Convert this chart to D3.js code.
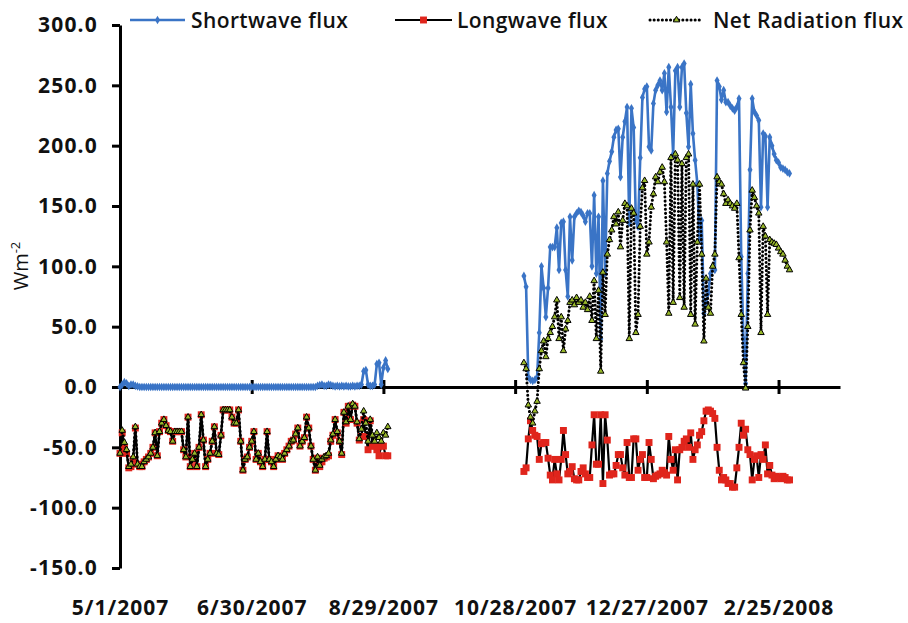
<!DOCTYPE html>
<html>
<head>
<meta charset="utf-8">
<script src="https://cdn.jsdelivr.net/npm/d3@7"></script>
<style>
  body { margin: 0; background: #ffffff; }
  svg { display: block; }
</style>
</head>
<body>
<div id="chart"></div>
<script>

// ---- data (one value per day) ----

var seriesNames = ["Shortwave flux", "Longwave flux", "Net Radiation flux"];
var yTicks = [-150, -100, -50, 0, 50, 100, 150, 200, 250, 300];
var xTickDates = ["2007-05-01", "2007-06-30", "2007-08-29", "2007-10-28", "2007-12-27", "2008-02-25"];
var xTickLabels = ["5/1/2007", "6/30/2007", "8/29/2007", "10/28/2007", "12/27/2007", "2/25/2008"];
var xDomain = ["2007-05-01", "2008-03-24"];

// first block: 5/1/2007 - 8/31/2007
var start1 = "2007-05-01";
var sw1 = [
  0, 2, 4, 3, 1, 2, 2, 1, 0.5, 0,
  0, 0, 0, 0, 0, 0, 0, 0, 0, 0,
  0, 0, 0, 0, 0, 0, 0, 0, 0, 0,
  0, 0, 0, 0, 0, 0, 0, 0, 0, 0,
  0, 0, 0, 0, 0, 0, 0, 0, 0, 0,
  0, 0, 0, 0, 0, 0, 0, 0, 0, 0,
  0, 0, 0, 0, 0, 0, 0, 0, 0, 0,
  0, 0, 0, 0, 0, 0, 0, 0, 0, 0,
  0, 0, 0, 0, 0, 0, 0, 0, 0, 0,
  1, 1.5, 2, 1, 1, 2, 1.5, 1, 0.5, 1,
  0.5, 1, 0.5, 1, 0.5, 0.5, 1, 0.5, 1, 1,
  2, 13, 14, 2, 1, 1, 2, 19, 20, 2,
  16, 22, 15
];
var lw1 = [
  -55, -38, -50, -55, -67, -66, -60, -34, -64, -66,
  -66, -62, -60, -58, -55, -50, -38, -57, -37, -30,
  -27, -32, -36, -37, -45, -37, -37, -37, -37, -52,
  -58, -25, -66, -60, -55, -66, -50, -23, -44, -66,
  -60, -55, -45, -33, -55, -56, -40, -19, -19, -19,
  -19, -25, -30, -30, -19, -45, -69, -60, -58, -50,
  -45, -37, -60, -55, -62, -66, -60, -37, -60, -62,
  -66, -60, -57, -58, -60, -55, -52, -49, -45, -44,
  -39, -34, -49, -45, -42, -25, -34, -49, -60, -69,
  -59, -66, -62, -59, -58, -57, -45, -40, -27, -38,
  -45, -56, -21, -30, -16, -27, -15, -16, -30, -44,
  -41, -27, -41, -52, -28, -49, -49, -52, -57, -49,
  -49, -57, -57
];
var net1 = [
  -55, -36, -46, -52, -66, -64, -58, -33, -64, -66,
  -66, -62, -60, -58, -55, -50, -38, -57, -37, -30,
  -27, -32, -36, -37, -45, -37, -37, -37, -37, -52,
  -58, -25, -66, -60, -55, -66, -50, -23, -44, -66,
  -60, -55, -45, -33, -55, -56, -40, -19, -19, -19,
  -19, -25, -30, -30, -19, -45, -69, -60, -58, -50,
  -45, -37, -60, -55, -62, -66, -60, -37, -60, -62,
  -66, -60, -57, -58, -60, -55, -52, -49, -45, -44,
  -39, -34, -49, -45, -42, -25, -34, -49, -60, -69,
  -58, -65, -60, -58, -57, -55, -44, -39, -27, -37,
  -45, -55, -21, -29, -16, -27, -14, -16, -29, -43,
  -35, -20, -30, -45, -27, -40, -45, -38, -42, -45,
  -38, -40, -33
];

// second block: 11/1/2007 - 3/1/2008
var start2 = "2007-11-01";
var sw2 = [
  92, 83, 8, 6, 5, 6, 8, 45, 100, 82,
  58, 82, 116, 116, 116, 132, 97, 136, 137, 97,
  75, 141, 105, 141, 144, 146, 145, 142, 137, 144,
  144, 100, 159, 94, 141, 40, 171, 94, 177, 187,
  195, 207, 213, 214, 174, 207, 220, 232, 136, 231,
  215, 138, 133, 190, 240, 247, 249, 199, 196, 235,
  246, 250, 254, 246, 260, 228, 265, 232, 193, 262,
  265, 232, 265, 268, 227, 199, 251, 210, 188, 169,
  122, 138, 61, 70, 78, 94, 100, 97, 254, 249,
  238, 246, 236, 236, 233, 231, 229, 232, 239, 108,
  40, 3, 94, 180, 239, 228, 225, 221, 149, 210,
  208, 149, 207, 200, 193, 188, 186, 182, 181, 180,
  178, 177
];
var lw2 = [
  -70, -67, -43, -28, -36, -40, -41, -60, -47, -46,
  -46, -59, -73, -77, -60, -72, -77, -60, -36, -56,
  -72, -70, -66, -76, -77, -77, -70, -67, -72, -75,
  -75, -48, -23, -64, -64, -23, -80, -23, -44, -73,
  -72, -72, -65, -56, -56, -67, -73, -46, -75, -75,
  -43, -43, -69, -60, -56, -75, -75, -46, -60, -76,
  -74, -73, -72, -69, -71, -73, -41, -60, -69, -52,
  -77, -52, -50, -45, -43, -50, -38, -60, -52, -48,
  -40, -37, -28, -20, -19, -20, -22, -26, -50, -69,
  -77, -75, -77, -80, -80, -83, -83, -67, -50, -30,
  -40, -35, -52, -56, -77, -60, -57, -75, -56, -60,
  -48, -72, -65, -73, -76, -74, -75, -76, -74, -75,
  -77, -77
];
var net2 = [
  20, 15, -15, -25, -30, -20, -12, 15, 30, 38,
  25, 40, 45, 50, 58, 72, 40, 58, 30, 48,
  55, 70, 72, 68, 74, 70, 72, 66, 70, 64,
  75, 55, 88, 40, 80, 13, 95, 60, 110, 122,
  130, 141, 135, 145, 116, 138, 152, 150, 40, 148,
  144, 45, 60, 133, 165, 171, 110, 120, 149, 160,
  174, 170, 178, 182, 170, 120, 61, 190, 70, 193,
  188, 74, 185, 66, 190, 193, 60, 168, 52, 120,
  168, 110, 38, 90, 66, 61, 100, 110, 174, 170,
  168, 160, 152, 155, 152, 150, 148, 152, 107, 60,
  20, -1, 50, 130, 163, 157, 150, 144, 45, 133,
  125, 60, 122, 120, 119, 118, 115, 112, 110, 105,
  100, 97
];

// ---- layout ----
var W = 908, H = 623;
var par = {
  left: 120, right: 840, top: 25, bottom: 568,
  label_y: 598,
  sw_color: "#3a74c6",
  lw_color: "#000000",
  sq_color: "#e0251c",
  tri_color: "#98b82a",
  tick_font: "'Open Sans', 'DejaVu Sans', sans-serif"
};

var parseDay = d3.utcParse("%Y-%m-%d");

// build point lists for a block
var make_block = function(start, vals){
  var s = parseDay(start);
  return vals.map(function(v, i){ return {date: d3.utcDay.offset(s, i), value: v}; });
};

var blocks = {
  sw: [make_block(start1, sw1), make_block(start2, sw2)],
  lw: [make_block(start1, lw1), make_block(start2, lw2)],
  net: [make_block(start1, net1), make_block(start2, net2)]
};

var svg = d3.select("#chart")
  .append("svg")
  .attr("width", W)
  .attr("height", H);

var x = d3.scaleUtc()
  .domain(xDomain.map(parseDay))
  .range([par.left, par.right]);

var y = d3.scaleLinear()
  .domain([yTicks[0], yTicks[yTicks.length - 1]])
  .range([par.bottom, par.top]);

// ---- axes ----
var yAxis = d3.axisLeft(y)
  .tickValues(yTicks)
  .tickFormat(function(d){ return d.toFixed(1); })
  .tickSizeInner(8)
  .tickSizeOuter(0)
  .tickPadding(14);

var gy = svg.append("g")
  .attr("transform", "translate(" + par.left + ",0)")
  .call(yAxis);
gy.select(".domain").attr("stroke", "#000").attr("stroke-width", 3);
gy.selectAll(".tick line").attr("stroke", "#000").attr("stroke-width", 3);
gy.selectAll(".tick text")
  .attr("fill", "#111")
  .style("font-family", par.tick_font)
  .style("font-weight", "bold")
  .style("font-size", "21px")
  .style("letter-spacing", "1.2px");

// x axis line sits at zero, tick marks cross it
var xAxis = d3.axisBottom(x)
  .tickValues(xTickDates.map(parseDay))
  .tickFormat("")
  .tickSizeInner(7)
  .tickSizeOuter(0);

var gx = svg.append("g")
  .attr("transform", "translate(0," + y(0) + ")")
  .call(xAxis);
gx.select(".domain").attr("stroke", "#000").attr("stroke-width", 3);
gx.selectAll(".tick line")
  .attr("y1", -7)
  .attr("stroke", "#000")
  .attr("stroke-width", 3);

// date labels go at the bottom of the plot
var xLabelAxis = d3.axisBottom(x)
  .tickValues(xTickDates.map(parseDay))
  .tickFormat(function(d, i){ return xTickLabels[i]; })
  .tickSize(0)
  .tickPadding(2);

var gxl = svg.append("g")
  .attr("transform", "translate(0," + par.label_y + ")")
  .call(xLabelAxis);
gxl.select(".domain").remove();
gxl.selectAll(".tick text")
  .attr("fill", "#111")
  .style("font-family", par.tick_font)
  .style("font-weight", "bold")
  .style("font-size", "21px")
  .style("letter-spacing", "1px");

// y title
var yTitle = svg.append("text")
  .attr("transform", "translate(28,266) rotate(-90)")
  .attr("text-anchor", "middle")
  .attr("fill", "#111")
  .style("font-family", par.tick_font)
  .style("font-size", "20px");
yTitle.append("tspan").text("Wm");
yTitle.append("tspan").attr("dy", -8).style("font-size", "13px").text("-2");

// ---- series ----
var line = d3.line()
  .x(function(d){ return x(d.date); })
  .y(function(d){ return y(d.value); });

var diamond = d3.symbol().type(d3.symbolDiamond).size(22);
var square = d3.symbol().type(d3.symbolSquare).size(48);
var triangle = d3.symbol().type(d3.symbolTriangle).size(18);

var plot = svg.append("g");

// shortwave
blocks.sw.forEach(function(b){
  plot.append("path").datum(b)
    .attr("d", line)
    .attr("fill", "none")
    .attr("stroke", par.sw_color)
    .attr("stroke-width", 2.6)
    .attr("stroke-linejoin", "round");
  plot.append("g").selectAll("path").data(b).enter().append("path")
    .attr("d", diamond)
    .attr("transform", function(d){ return "translate(" + x(d.date) + "," + y(d.value) + ")"; })
    .attr("fill", par.sw_color);
});

// longwave
blocks.lw.forEach(function(b){
  plot.append("path").datum(b)
    .attr("d", line)
    .attr("fill", "none")
    .attr("stroke", par.lw_color)
    .attr("stroke-width", 2.2)
    .attr("stroke-linejoin", "round");
  plot.append("g").selectAll("path").data(b).enter().append("path")
    .attr("d", square)
    .attr("transform", function(d){ return "translate(" + x(d.date) + "," + y(d.value) + ")"; })
    .attr("fill", par.sq_color);
});

// net radiation
blocks.net.forEach(function(b){
  plot.append("path").datum(b)
    .attr("d", line)
    .attr("fill", "none")
    .attr("stroke", "#000")
    .attr("stroke-width", 3)
    .attr("stroke-linecap", "round")
    .attr("stroke-dasharray", "0.1,4");
  plot.append("g").selectAll("path").data(b).enter().append("path")
    .attr("d", triangle)
    .attr("transform", function(d){ return "translate(" + x(d.date) + "," + y(d.value) + ")"; })
    .attr("fill", par.tri_color)
    .attr("stroke", "#000")
    .attr("stroke-width", 1);
});

// ---- legend ----
var legend = svg.append("g");
var legItems = [
  {name: seriesNames[0], x0: 130, x1: 185, tx: 191},
  {name: seriesNames[1], x0: 395, x1: 452, tx: 457},
  {name: seriesNames[2], x0: 650, x1: 703, tx: 713}
];
var legY = 20;

legend.append("line")
  .attr("x1", legItems[0].x0).attr("x2", legItems[0].x1)
  .attr("y1", legY).attr("y2", legY)
  .attr("stroke", par.sw_color).attr("stroke-width", 2.6);
legend.append("path").attr("d", diamond)
  .attr("transform", "translate(" + (legItems[0].x0 + legItems[0].x1) / 2 + "," + legY + ")")
  .attr("fill", par.sw_color);

legend.append("line")
  .attr("x1", legItems[1].x0).attr("x2", legItems[1].x1)
  .attr("y1", legY).attr("y2", legY)
  .attr("stroke", par.lw_color).attr("stroke-width", 2.2);
legend.append("path").attr("d", square)
  .attr("transform", "translate(" + (legItems[1].x0 + legItems[1].x1) / 2 + "," + legY + ")")
  .attr("fill", par.sq_color);

legend.append("line")
  .attr("x1", legItems[2].x0).attr("x2", legItems[2].x1)
  .attr("y1", legY).attr("y2", legY)
  .attr("stroke", "#000").attr("stroke-width", 3)
  .attr("stroke-linecap", "round").attr("stroke-dasharray", "0.1,4");
legend.append("path").attr("d", triangle)
  .attr("transform", "translate(" + (legItems[2].x0 + legItems[2].x1) / 2 + "," + legY + ")")
  .attr("fill", par.tri_color).attr("stroke", "#000").attr("stroke-width", 1);

legend.selectAll("text.leg").data(legItems).enter().append("text")
  .attr("class", "leg")
  .attr("x", function(d){ return d.tx; })
  .attr("y", legY + 7.5)
  .attr("fill", "#111")
  .style("font-family", par.tick_font)
  .style("font-size", "21px")
  .style("font-weight", "600")
  .style("letter-spacing", "0.4px")
  .text(function(d){ return d.name; });

</script>
</body>
</html>
